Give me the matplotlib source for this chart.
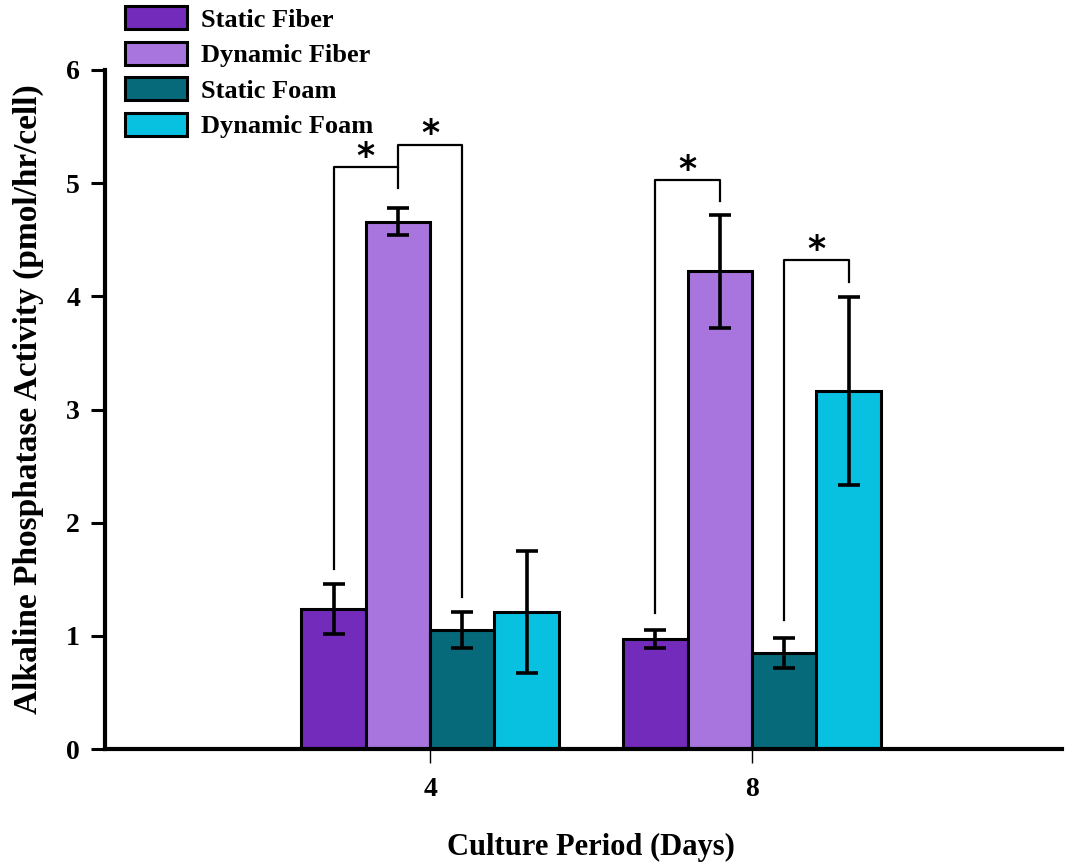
import matplotlib.pyplot as plt
import numpy as np

# ALP activity per cell, mean and error for each group
days = [4, 8]
series = ['Static Fiber', 'Dynamic Fiber', 'Static Foam', 'Dynamic Foam']
static_fiber = [1.24, 0.97]
dynamic_fiber = [4.66, 4.22]
static_foam = [1.05, 0.85]
dynamic_foam = [1.21, 3.16]
static_fiber_err = [0.22, 0.08]
dynamic_fiber_err = [0.12, 0.50]
static_foam_err = [0.16, 0.13]
dynamic_foam_err = [0.54, 0.83]

colors = ['#722BBB', '#A875DF', '#066A7A', '#08C1E0']

plt.rcParams['font.family'] = 'Liberation Serif'
plt.rcParams['font.weight'] = 'bold'

fig = plt.figure(figsize=(10.75, 8.64), dpi=100)
ax = fig.add_axes([0.0977, 0.133, 0.890, 0.786])

width = 0.8
offsets = [-1.2, -0.4, 0.4, 1.2]
x = np.array(days, dtype=float)
means = [static_fiber, dynamic_fiber, static_foam, dynamic_foam]
errs = [static_fiber_err, dynamic_fiber_err, static_foam_err, dynamic_foam_err]

for name, m, e, c, off in zip(series, means, errs, colors, offsets):
    ax.bar(x + off, m, width, color=c, edgecolor='black', linewidth=2.2,
           label=name, zorder=2)
    ax.errorbar(x + off, m, yerr=e, fmt='none', ecolor='black',
                elinewidth=2.6, capsize=8, capthick=2.6, zorder=3)

# significance brackets: (x_left, x_right, y_left, y_top, y_right)
def bracket(x1, x2, y1, ytop, y2):
    ax.plot([x1, x1, x2, x2], [y1, ytop, ytop, y2], color='black',
            lw=1.6, solid_joinstyle='round', zorder=4)
    ax.text((x1 + x2) / 2, ytop + 0.09, '*', ha='center', va='center',
            fontsize=25, family='DejaVu Sans', fontweight='bold')

bracket(4 - 1.2, 4 - 0.4, 1.59, 5.14, 4.96)
bracket(4 - 0.4, 4 + 0.4, 5.14, 5.34, 1.34)
bracket(8 - 1.2, 8 - 0.4, 1.20, 5.03, 4.84)
bracket(8 + 0.4, 8 + 1.2, 1.14, 4.32, 4.13)

ax.set_xlim(-0.04, 11.85)
ax.set_ylim(0, 6)
ax.set_xticks(days)
ax.set_xticklabels([str(d) for d in days], fontsize=20, fontweight='bold')
ax.set_yticks(range(0, 7))
ax.set_yticklabels([str(v) for v in range(0, 7)], fontsize=20, fontweight='bold')
ax.tick_params(axis='y', direction='out', length=10, width=2.2, pad=8)
ax.tick_params(axis='x', direction='out', length=10, width=1, pad=10)

for side in ['top', 'right']:
    ax.spines[side].set_visible(False)
ax.spines['left'].set_linewidth(3)
ax.spines['bottom'].set_linewidth(3)

ax.set_xlabel('Culture Period (Days)', fontsize=22, fontweight='bold')
ax.xaxis.set_label_coords(0.508, -0.145)
ax.xaxis.label.set_va('center')
ax.set_ylabel('Alkaline Phosphatase Activity (pmol/hr/cell)', fontsize=24,
              fontweight='bold')
ax.yaxis.set_label_coords(-0.08, 0.515)
ax.yaxis.label.set_va('center')

fig.legend(loc='upper left', bbox_to_anchor=(0.094, 1.02), frameon=False,
           prop={'size': 19, 'weight': 'bold'}, handlelength=2.35,
           handleheight=0.95, labelspacing=0.38, handletextpad=0.55)

fig.savefig('out.png', dpi=100)
